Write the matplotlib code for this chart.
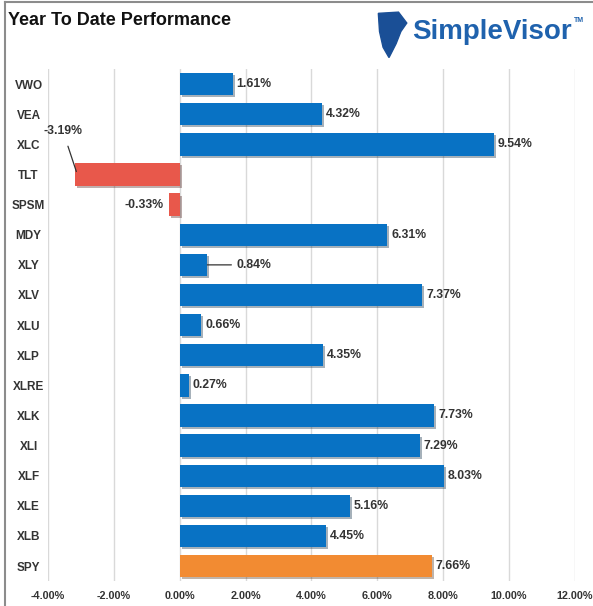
import matplotlib
matplotlib.use("Agg")
import matplotlib.pyplot as plt
import matplotlib.patheffects as pe
import matplotlib.transforms as mtransforms
from matplotlib.patches import Polygon

# valores (%)
tickers = ['VWO', 'VEA', 'XLC', 'TLT', 'SPSM', 'MDY', 'XLY', 'XLV', 'XLU',
           'XLP', 'XLRE', 'XLK', 'XLI', 'XLF', 'XLE', 'XLB', 'SPY']
ytd = [1.61, 4.32, 9.54, -3.19, -0.33, 6.31, 0.84, 7.37, 0.66,
       4.35, 0.27, 7.73, 7.29, 8.03, 5.16, 4.45, 7.66]
x_ticks = [-4, -2, 0, 2, 4, 6, 8, 10, 12]

BLUE = '#0872c4'
RED = '#e8584b'
ORANGE = '#f28b32'
FONT = ['Liberation Sans Narrow', 'Liberation Sans', 'DejaVu Sans']

colors = []
for t, v in zip(tickers, ytd):
    if t == 'SPY':
        colors.append(ORANGE)
    elif v < 0:
        colors.append(RED)
    else:
        colors.append(BLUE)

fig = plt.figure(figsize=(5.93, 6.06), dpi=100)
ax = fig.add_axes([0.081, 0.041, 0.888, 0.845])

ypos = list(range(len(tickers)))
bars = ax.barh(ypos, ytd, height=0.74, color=colors, zorder=3)
for b in bars:
    b.set_path_effects([pe.SimplePatchShadow(offset=(1.5, -1.5), alpha=0.35), pe.Normal()])

ax.set_xlim(-4, 12)
ax.set_ylim(len(tickers) - 0.5, -0.5)
ax.set_xticks(x_ticks)
ax.set_xticklabels([f'{t:.2f}%' for t in x_ticks], family=FONT, fontsize=7.8,
                   fontweight='bold', color='#333333')
shift = mtransforms.ScaledTranslation(-2 / 72, 0, fig.dpi_scale_trans)
for lab in ax.get_xticklabels():
    lab.set_transform(lab.get_transform() + shift)
ax.set_yticks(ypos)
ax.set_yticklabels(tickers, family=FONT, fontsize=8.5, fontweight='bold',
                   color='#333333', ha='center')
ax.tick_params(axis='y', length=0, pad=14)
ax.tick_params(axis='x', length=0, pad=7)
ax.grid(axis='x', color='#d9d9d9', linewidth=1, zorder=0)
for s in ax.spines.values():
    s.set_visible(False)

# rótulos dos valores
lbl = dict(family=FONT, fontsize=8.8, fontweight='bold', color='#333333', va='center')
for i, (t, v) in enumerate(zip(tickers, ytd)):
    txt = f'{v:.2f}%'
    if t == 'TLT':
        ax.annotate(txt, xy=(v + 0.05, i - 0.1), xytext=(-3.55, i - 1.45),
                    ha='center', arrowprops=dict(arrowstyle='-', color='#333333', lw=0.9,
                                                 shrinkB=0, shrinkA=5), **lbl)
    elif t == 'XLY':
        ax.annotate(txt, xy=(v, i), xytext=(v + 0.9, i), ha='left',
                    arrowprops=dict(arrowstyle='-', color='#333333', lw=0.9,
                                    shrinkB=0, shrinkA=2), **lbl)
    elif v < 0:
        ax.text(v - 0.17, i, txt, ha='right', **lbl)
    else:
        ax.text(v + 0.12, i, txt, ha='left', **lbl)

# título e logo
fig.text(0.013, 0.966, 'Year To Date Performance', family=FONT, fontsize=13,
         fontweight='bold', color='#111111', va='center', ha='left')
fig.text(0.695, 0.948, 'SimpleVisor', fontsize=20, fontweight='bold',
         color='#1f62ad', va='center', ha='left', family=FONT)
fig.text(0.968, 0.966, 'TM', fontsize=5, fontweight='bold', color='#1f62ad',
         va='center', family=FONT)
icon = Polygon([(0.638, 0.978), (0.672, 0.980), (0.686, 0.962), (0.676, 0.948),
                (0.668, 0.928), (0.656, 0.905), (0.646, 0.922), (0.640, 0.948)],
               closed=True, transform=fig.transFigure, color='#1a4f96')
fig.patches.append(icon)

# moldura cinza à esquerda e em cima
fig.add_artist(plt.Line2D([0.009, 0.009], [0, 0.997], transform=fig.transFigure,
                          color='#8c8c8c', lw=1.5))
fig.add_artist(plt.Line2D([0.009, 1], [0.997, 0.997], transform=fig.transFigure,
                          color='#8c8c8c', lw=1.5))

fig.savefig('out.png', dpi=100, facecolor='white')
